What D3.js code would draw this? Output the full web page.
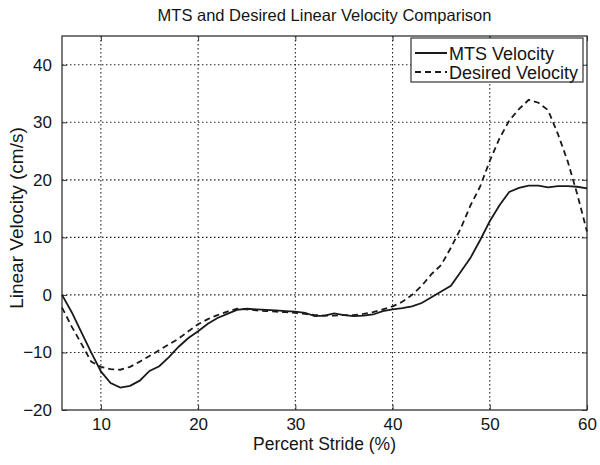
<!DOCTYPE html>
<html>
<head>
<meta charset="utf-8">
<script src="https://cdn.jsdelivr.net/npm/d3@7"></script>
<style>
  body { margin: 0; background: #fff; }
  svg text { font-family: "Liberation Sans", Arial, Helvetica, sans-serif; fill: #151515; }
</style>
</head>
<body>
<div id="chart"></div>
<script>
// percent stride samples
const stride = [6, 7, 8, 9, 10, 11, 12, 13, 14, 15, 16, 17, 18, 19, 20, 21, 22, 23, 24, 25,
  26, 27, 28, 29, 30, 31, 32, 33, 34, 35, 36, 37, 38, 39, 40, 41, 42, 43, 44, 45,
  46, 47, 48, 49, 50, 51, 52, 53, 54, 55, 56, 57, 58, 59, 60];

// MTS velocity (cm/s)
const mtsVelocity = [0, -3.0, -6.5, -10.0, -13.3, -15.3, -16.1, -15.8, -14.9, -13.2,
  -12.4, -10.8, -9.0, -7.5, -6.3, -5.0, -4.0, -3.3, -2.6, -2.4,
  -2.5, -2.6, -2.7, -2.8, -2.9, -3.1, -3.7, -3.6, -3.2, -3.5,
  -3.7, -3.6, -3.4, -2.8, -2.5, -2.3, -2.0, -1.4, -0.4, 0.6,
  1.6, 4.0, 6.4, 9.5, 12.8, 15.6, 17.9, 18.6, 19.0, 19.0,
  18.7, 18.9, 18.9, 18.8, 18.5];

// desired velocity (cm/s)
const desiredVelocity = [-2.2, -5.5, -8.5, -11.6, -12.5, -12.9, -13.0, -12.5, -11.6, -10.6,
  -9.6, -8.6, -7.6, -6.3, -5.1, -4.2, -3.5, -2.9, -2.4, -2.5,
  -2.7, -2.8, -2.9, -3.0, -3.1, -3.3, -3.5, -3.6, -3.6, -3.5,
  -3.5, -3.3, -3.0, -2.5, -2.0, -1.2, 0.0, 1.6, 3.6, 5.2,
  8.2, 11.5, 15.5, 18.8, 23.3, 27.2, 30.3, 32.3, 33.9, 33.4,
  32.1, 28.0, 23.3, 17.5, 11.0];

const xTicks = [10, 20, 30, 40, 50, 60];
const yTicks = [-20, -10, 0, 10, 20, 30, 40];
const legendLabels = ["MTS Velocity", "Desired Velocity"];

const W = 600, H = 465;
const margin = {top: 36, right: 13, bottom: 55, left: 62};
const chtW = W - margin.left - margin.right;
const chtH = H - margin.top - margin.bottom;

const svg = d3.select("#chart").append("svg")
  .attr("width", W)
  .attr("height", H);

const g = svg.append("g")
  .attr("transform", "translate(" + margin.left + "," + margin.top + ")");

const x = d3.scaleLinear().domain([6, 60]).range([0, chtW]);
const y = d3.scaleLinear().domain([-20, 45]).range([chtH, 0]);

// grid (matlab style dotted)
g.append("g").selectAll("line")
  .data(xTicks.filter(d => d < 60))
  .enter().append("line")
    .attr("x1", d => x(d)).attr("x2", d => x(d))
    .attr("y1", 0).attr("y2", chtH)
    .attr("stroke", "#222")
    .attr("stroke-width", 1.1)
    .attr("stroke-dasharray", "1.5,2.5");

g.append("g").selectAll("line")
  .data(yTicks.filter(d => d > -20))
  .enter().append("line")
    .attr("x1", 0).attr("x2", chtW)
    .attr("y1", d => y(d)).attr("y2", d => y(d))
    .attr("stroke", "#222")
    .attr("stroke-width", 1.1)
    .attr("stroke-dasharray", "1.5,2.5");

// axes, ticks pointing inward
const xAxis = d3.axisBottom(x).tickValues(xTicks).tickSizeInner(-5).tickSizeOuter(0).tickPadding(8);
const yAxis = d3.axisLeft(y).tickValues(yTicks).tickSizeInner(-5).tickSizeOuter(0).tickPadding(10)
  .tickFormat(d => d < 0 ? "\u2212" + Math.abs(d) : d);

g.append("g")
  .attr("class", "x axis")
  .attr("transform", "translate(0," + chtH + ")")
  .call(xAxis);

g.append("g")
  .attr("class", "y axis")
  .call(yAxis);

g.append("g")
  .attr("class", "axis")
  .call(d3.axisTop(x).tickValues(xTicks).tickSizeInner(-5).tickSizeOuter(0).tickFormat(""));

g.append("g")
  .attr("class", "axis")
  .attr("transform", "translate(" + chtW + ",0)")
  .call(d3.axisRight(y).tickValues(yTicks).tickSizeInner(-5).tickSizeOuter(0).tickFormat(""));

d3.selectAll("g.axis path.domain").remove();
d3.selectAll("g.axis g.tick line").attr("stroke", "#333");
d3.selectAll("g.x.axis g.tick text, g.y.axis g.tick text")
  .style("font-size", "17px")
  .style("font-family", "'Liberation Sans', Arial, sans-serif")
  .attr("fill", "#151515");

// box
g.append("rect")
  .attr("width", chtW)
  .attr("height", chtH)
  .attr("fill", "none")
  .attr("stroke", "#333")
  .attr("stroke-width", 1.3);

// series
const line = d3.line()
  .x((d, i) => x(stride[i]))
  .y(d => y(d));

g.append("path")
  .datum(desiredVelocity)
  .attr("fill", "none")
  .attr("stroke", "#1a1a1a")
  .attr("stroke-width", 1.8)
  .attr("stroke-dasharray", "6,4")
  .attr("d", line);

g.append("path")
  .datum(mtsVelocity)
  .attr("fill", "none")
  .attr("stroke", "#1a1a1a")
  .attr("stroke-width", 1.8)
  .attr("d", line);

// legend
const lg = svg.append("g").attr("transform", "translate(411,38)");
lg.append("rect")
  .attr("width", 172)
  .attr("height", 44)
  .attr("fill", "#fff")
  .attr("stroke", "#333")
  .attr("stroke-width", 1.2);

legendLabels.forEach((label, i) => {
  const ly = 15 + i * 19;
  lg.append("line")
    .attr("x1", 4).attr("x2", 36)
    .attr("y1", ly).attr("y2", ly)
    .attr("stroke", "#1a1a1a")
    .attr("stroke-width", 2)
    .attr("stroke-dasharray", i === 1 ? "6,4" : null);
  lg.append("text")
    .attr("x", 38)
    .attr("y", ly + 6.5)
    .style("font-size", "18px")
    .text(label);
});

// titles
svg.append("text")
  .attr("x", margin.left + chtW / 2)
  .attr("y", 21)
  .attr("text-anchor", "middle")
  .style("font-size", "16.5px")
  .text("MTS and Desired Linear Velocity Comparison");

svg.append("text")
  .attr("x", margin.left + chtW / 2)
  .attr("y", 450)
  .attr("text-anchor", "middle")
  .style("font-size", "17.5px")
  .text("Percent Stride (%)");

svg.append("text")
  .attr("transform", "translate(23,218) rotate(-90)")
  .attr("text-anchor", "middle")
  .style("font-size", "19px")
  .text("Linear Velocity (cm/s)");
</script>
</body>
</html>
